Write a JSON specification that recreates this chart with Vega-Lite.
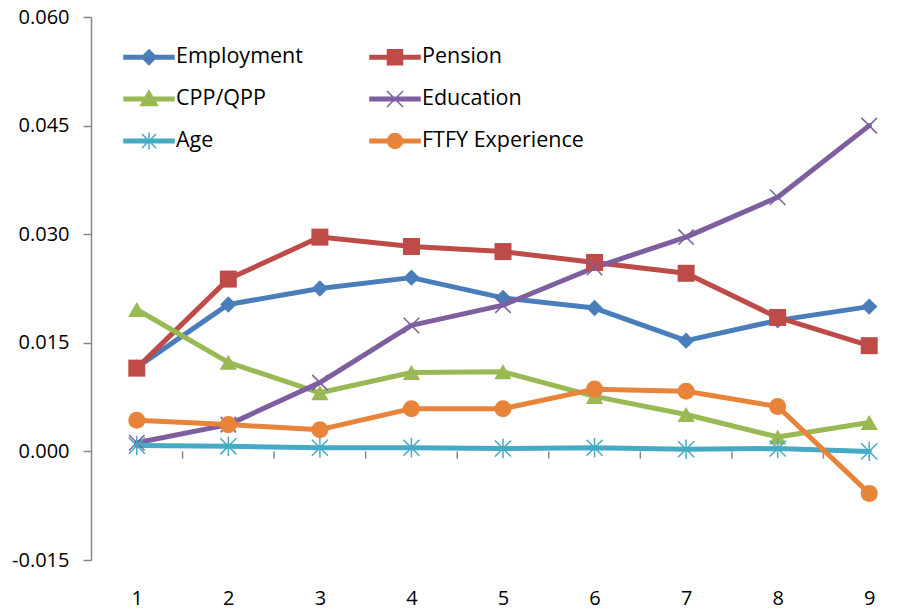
{
  "$schema": "https://vega.github.io/schema/vega-lite/v6.json",
  "width": 824,
  "height": 543,
  "autosize": {"type": "none"},
  "padding": {"left": 91, "top": 17, "right": 0, "bottom": 51},
  "background": "white",
  "config": {
    "view": {"stroke": null},
    "font": "Open Sans",
    "axis": {"labelFont": "Open Sans", "labelFontSize": 20, "labelColor": "#000000", "domainColor": "#868686", "tickColor": "#868686", "grid": false, "title": null}
  },
  "datasets": {
    "series": [
      {"series": "Employment", "x": 1, "v": 0.0116},
      {"series": "Employment", "x": 2, "v": 0.0203},
      {"series": "Employment", "x": 3, "v": 0.0225},
      {"series": "Employment", "x": 4, "v": 0.0240},
      {"series": "Employment", "x": 5, "v": 0.0212},
      {"series": "Employment", "x": 6, "v": 0.0198},
      {"series": "Employment", "x": 7, "v": 0.0153},
      {"series": "Employment", "x": 8, "v": 0.0181},
      {"series": "Employment", "x": 9, "v": 0.0200},
      {"series": "Pension", "x": 1, "v": 0.0115},
      {"series": "Pension", "x": 2, "v": 0.0238},
      {"series": "Pension", "x": 3, "v": 0.0296},
      {"series": "Pension", "x": 4, "v": 0.0283},
      {"series": "Pension", "x": 5, "v": 0.0276},
      {"series": "Pension", "x": 6, "v": 0.0261},
      {"series": "Pension", "x": 7, "v": 0.0246},
      {"series": "Pension", "x": 8, "v": 0.0185},
      {"series": "Pension", "x": 9, "v": 0.0146},
      {"series": "CPP/QPP", "x": 1, "v": 0.0196},
      {"series": "CPP/QPP", "x": 2, "v": 0.0123},
      {"series": "CPP/QPP", "x": 3, "v": 0.0081},
      {"series": "CPP/QPP", "x": 4, "v": 0.0109},
      {"series": "CPP/QPP", "x": 5, "v": 0.0110},
      {"series": "CPP/QPP", "x": 6, "v": 0.0076},
      {"series": "CPP/QPP", "x": 7, "v": 0.0051},
      {"series": "CPP/QPP", "x": 8, "v": 0.0020},
      {"series": "CPP/QPP", "x": 9, "v": 0.0040},
      {"series": "Education", "x": 1, "v": 0.0012},
      {"series": "Education", "x": 2, "v": 0.0037},
      {"series": "Education", "x": 3, "v": 0.0095},
      {"series": "Education", "x": 4, "v": 0.0174},
      {"series": "Education", "x": 5, "v": 0.0202},
      {"series": "Education", "x": 6, "v": 0.0254},
      {"series": "Education", "x": 7, "v": 0.0296},
      {"series": "Education", "x": 8, "v": 0.0351},
      {"series": "Education", "x": 9, "v": 0.0450},
      {"series": "Age", "x": 1, "v": 0.0008},
      {"series": "Age", "x": 2, "v": 0.0007},
      {"series": "Age", "x": 3, "v": 0.0005},
      {"series": "Age", "x": 4, "v": 0.0005},
      {"series": "Age", "x": 5, "v": 0.0004},
      {"series": "Age", "x": 6, "v": 0.0005},
      {"series": "Age", "x": 7, "v": 0.0003},
      {"series": "Age", "x": 8, "v": 0.0004},
      {"series": "Age", "x": 9, "v": 0.0000},
      {"series": "FTFY Experience", "x": 1, "v": 0.0043},
      {"series": "FTFY Experience", "x": 2, "v": 0.0037},
      {"series": "FTFY Experience", "x": 3, "v": 0.0030},
      {"series": "FTFY Experience", "x": 4, "v": 0.0059},
      {"series": "FTFY Experience", "x": 5, "v": 0.0059},
      {"series": "FTFY Experience", "x": 6, "v": 0.0086},
      {"series": "FTFY Experience", "x": 7, "v": 0.0083},
      {"series": "FTFY Experience", "x": 8, "v": 0.0062},
      {"series": "FTFY Experience", "x": 9, "v": -0.0058}
    ],
    "bounds": [
      {"t": 1.5}, {"t": 2.5}, {"t": 3.5}, {"t": 4.5}, {"t": 5.5}, {"t": 6.5}, {"t": 7.5}, {"t": 8.5}
    ]
  },
  "layer": [
    {
      "mark": {"type": "rule", "color": "#868686", "strokeWidth": 1.5},
      "encoding": {"y": {"datum": 0, "type": "quantitative"}}
    },
    {
      "data": {"name": "bounds"},
      "mark": {"type": "rule", "color": "#868686", "strokeWidth": 1.5},
      "encoding": {
        "x": {"field": "t", "type": "quantitative"},
        "y": {"datum": 0, "type": "quantitative"},
        "y2": {"datum": -0.001}
      }
    },
    {
      "data": {"name": "series"},
      "mark": {"type": "line", "strokeWidth": 5, "strokeJoin": "round", "strokeCap": "round"},
      "encoding": {
        "x": {
          "field": "x", "type": "quantitative",
          "scale": {"domain": [0.5, 9.5], "nice": false, "zero": false},
          "axis": {"values": [1, 2, 3, 4, 5, 6, 7, 8, 9], "ticks": false, "domain": false, "labelPadding": 28, "format": "d"}
        },
        "y": {
          "field": "v", "type": "quantitative",
          "scale": {"domain": [-0.015, 0.06], "nice": false, "zero": false},
          "axis": {"values": [-0.015, 0, 0.015, 0.03, 0.045, 0.06], "labelExpr": "datum.value < 0 ? '-' + format(-datum.value, '.3f') : format(datum.value, '.3f')", "tickSize": 8, "domainWidth": 1.5, "tickWidth": 1.5, "labelPadding": 14}
        },
        "color": {
          "field": "series", "type": "nominal",
          "scale": {
            "domain": ["Employment", "Pension", "CPP/QPP", "Education", "Age", "FTFY Experience"],
            "range": ["#4A7EBB", "#BE4B48", "#98B954", "#7D5FA0", "#46AAC5", "#E8833A"]
          },
          "legend": {
            "orient": "none", "legendX": 32, "legendY": 14, "columns": 2, "direction": "horizontal", "title": null,
            "padding": 0, "symbolSize": 2500, "labelFont": "Open Sans", "labelFontSize": 21.5, "labelColor": "#000000",
            "labelOffset": 1, "labelLimit": 400, "rowPadding": 5, "columnPadding": 64, "symbolStrokeWidth": 1.5,
            "encode": {
              "symbols": {
                "update": {
                  "shape": {"signal": "datum.value === 'Employment' ? 'M-1,-0.07H1V0.07H-1Z M0,-0.3L0.3,0L0,0.3L-0.3,0Z' : datum.value === 'Pension' ? 'M-1,-0.07H1V0.07H-1Z M-0.3,-0.3H0.3V0.3H-0.3Z' : datum.value === 'CPP/QPP' ? 'M-1,-0.07H1V0.07H-1Z M0,-0.34L0.34,0.26H-0.34Z' : datum.value === 'Education' ? 'M-1,-0.07H1V0.07H-1Z M-0.32,-0.32L0.32,0.32M-0.32,0.32L0.32,-0.32' : datum.value === 'Age' ? 'M-1,-0.07H1V0.07H-1Z M-0.28,-0.28L0.28,0.28M-0.28,0.28L0.28,-0.28M0,-0.34V0.34' : 'M-1,-0.07H1V0.07H-1Z M-0.3,0A0.3,0.3,0,1,1,0.3,0A0.3,0.3,0,1,1,-0.3,0Z'"},
                  "fill": {"scale": "color", "field": "value"},
                  "stroke": {"scale": "color", "field": "value"},
                  "strokeWidth": {"value": 1.5},
                  "size": {"value": 2500},
                  "opacity": {"value": 1}
                }
              }
            }
          }
        }
      }
    },
    {
      "data": {"name": "series"},
      "transform": [{"filter": "datum.series === 'Employment'"}],
      "mark": {"type": "point", "shape": "diamond", "filled": true, "opacity": 1, "size": 270, "color": "#4A7EBB"},
      "encoding": {"x": {"field": "x", "type": "quantitative"}, "y": {"field": "v", "type": "quantitative"}}
    },
    {
      "data": {"name": "series"},
      "transform": [{"filter": "datum.series === 'Pension'"}],
      "mark": {"type": "point", "shape": "square", "filled": true, "opacity": 1, "size": 289, "color": "#BE4B48"},
      "encoding": {"x": {"field": "x", "type": "quantitative"}, "y": {"field": "v", "type": "quantitative"}}
    },
    {
      "data": {"name": "series"},
      "transform": [{"filter": "datum.series === 'CPP/QPP'"}],
      "mark": {"type": "point", "shape": "triangle-up", "filled": true, "opacity": 1, "size": 300, "color": "#98B954"},
      "encoding": {"x": {"field": "x", "type": "quantitative"}, "y": {"field": "v", "type": "quantitative"}}
    },
    {
      "data": {"name": "series"},
      "transform": [{"filter": "datum.series === 'Education'"}],
      "mark": {"type": "point", "shape": "M-1,-1L1,1M-1,1L1,-1", "filled": false, "opacity": 1, "size": 240, "strokeWidth": 1.5, "color": "#7D5FA0"},
      "encoding": {"x": {"field": "x", "type": "quantitative"}, "y": {"field": "v", "type": "quantitative"}}
    },
    {
      "data": {"name": "series"},
      "transform": [{"filter": "datum.series === 'Age'"}],
      "mark": {"type": "point", "shape": "M-1,-1L1,1M-1,1L1,-1M0,-1.2V1.2", "filled": false, "opacity": 1, "size": 260, "strokeWidth": 1.5, "color": "#46AAC5"},
      "encoding": {"x": {"field": "x", "type": "quantitative"}, "y": {"field": "v", "type": "quantitative"}}
    },
    {
      "data": {"name": "series"},
      "transform": [{"filter": "datum.series === 'FTFY Experience'"}],
      "mark": {"type": "point", "shape": "circle", "filled": true, "opacity": 1, "size": 290, "color": "#E8833A"},
      "encoding": {"x": {"field": "x", "type": "quantitative"}, "y": {"field": "v", "type": "quantitative"}}
    }
  ]
}
